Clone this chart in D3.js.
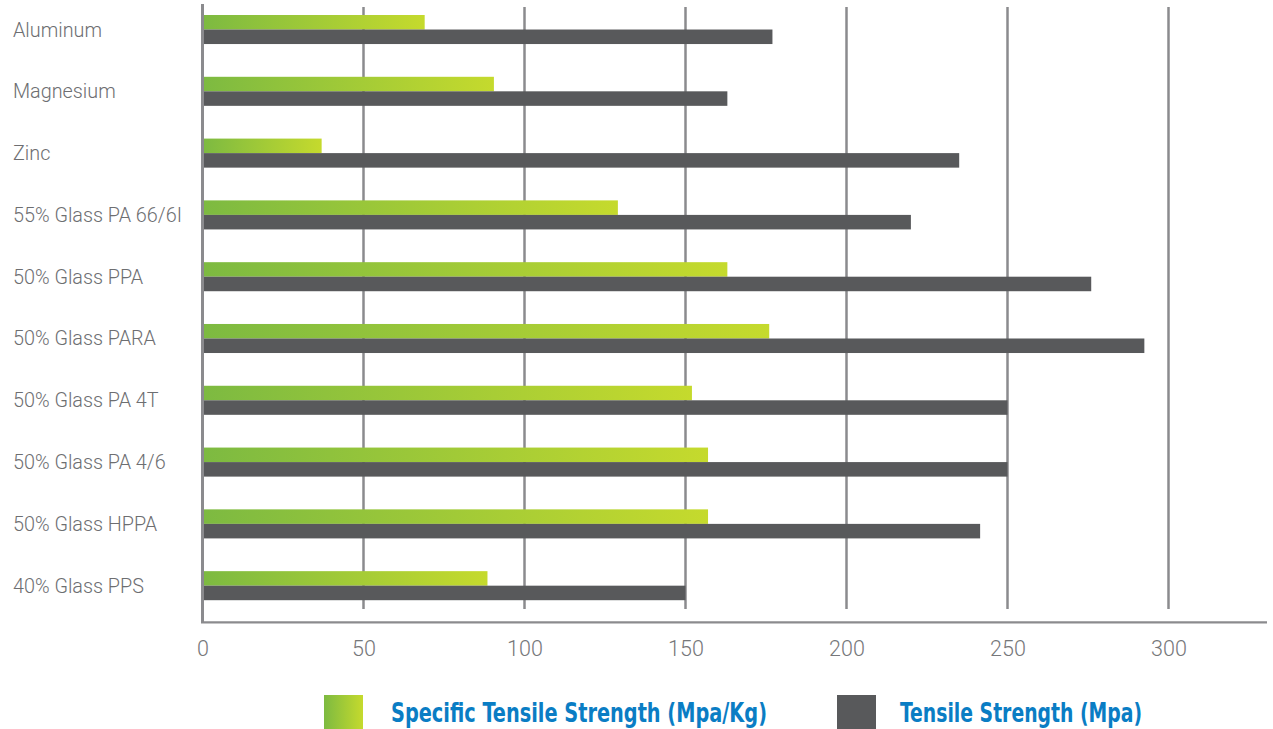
<!DOCTYPE html>
<html>
<head>
<meta charset="utf-8">
<script src="https://cdn.jsdelivr.net/npm/d3@7"></script>
<style>
  html, body { margin: 0; padding: 0; background: #ffffff; }
  svg { display: block; }
</style>
</head>
<body>
<svg id="chart" width="1273" height="729"></svg>
<script>
// Materials compared, top to bottom
const materials = [
  "Aluminum",
  "Magnesium",
  "Zinc",
  "55% Glass PA 66/6I",
  "50% Glass PPA",
  "50% Glass PARA",
  "50% Glass PA 4T",
  "50% Glass PA 4/6",
  "50% Glass HPPA",
  "40% Glass PPS"
];

// Specific tensile strength (Mpa/Kg)
const specificStrength = [69, 90.5, 37, 129, 163, 176, 152, 157, 157, 88.5];

// Tensile strength (Mpa)
const tensileStrength = [177, 163, 235, 220, 276, 292.5, 250, 250, 241.5, 150];

// Value axis ticks
const xTicks = [0, 50, 100, 150, 200, 250, 300];

const seriesNames = ["Specific Tensile Strength (Mpa/Kg)", "Tensile Strength (Mpa)"];

const svg = d3.select("#chart");

const x = d3.scaleLinear().domain([0, 300]).range([202.5, 1168.5]);

const y = d3.scaleBand()
  .domain(materials)
  .range([15, 600.2])
  .paddingInner(0.53)
  .paddingOuter(0);

const barH = y.bandwidth() / 2;

const GRAY = "#58595b";
const AXIS = "#8b8b8e";

// Green gradient used by the specific-strength bars and its legend key
const defs = svg.append("defs");
const grad = defs.append("linearGradient")
  .attr("id", "greenGrad")
  .attr("x1", "0%").attr("x2", "100%")
  .attr("y1", "0%").attr("y2", "0%");
grad.append("stop").attr("offset", "0%").attr("stop-color", "#7dba41");
grad.append("stop").attr("offset", "100%").attr("stop-color", "#c5da2d");

// Vertical gridlines
svg.append("g")
  .selectAll("line")
  .data(xTicks.slice(1))
  .join("line")
  .attr("x1", d => x(d)).attr("x2", d => x(d))
  .attr("y1", 7).attr("y2", 609)
  .attr("stroke", AXIS)
  .attr("stroke-width", 2.5);

// Left axis line
svg.append("line")
  .attr("x1", x(0)).attr("x2", x(0))
  .attr("y1", 4).attr("y2", 623)
  .attr("stroke", AXIS)
  .attr("stroke-width", 3);

// Bottom axis line
svg.append("line")
  .attr("x1", x(0) - 1.5).attr("x2", 1267)
  .attr("y1", 622.3).attr("y2", 622.3)
  .attr("stroke", AXIS)
  .attr("stroke-width", 2.2);

// Bars
const rows = materials.map((m, i) => ({ m, s: specificStrength[i], t: tensileStrength[i] }));

svg.append("g")
  .selectAll("rect")
  .data(rows)
  .join("rect")
  .attr("x", x(0) + 1.5)
  .attr("y", d => y(d.m))
  .attr("width", d => x(d.s) - x(0) - 1.5)
  .attr("height", barH)
  .attr("fill", "url(#greenGrad)");

svg.append("g")
  .selectAll("rect")
  .data(rows)
  .join("rect")
  .attr("x", x(0) + 1.5)
  .attr("y", d => y(d.m) + barH)
  .attr("width", d => x(d.t) - x(0) - 1.5)
  .attr("height", barH)
  .attr("fill", GRAY);

// Category labels
svg.append("g")
  .selectAll("text")
  .data(materials)
  .join("text")
  .attr("x", 13)
  .attr("y", d => y(d) + y.bandwidth() / 2 + 7)
  .attr("font-family", "Roboto, 'Open Sans', sans-serif")
  .attr("font-weight", 300)
  .attr("font-size", 19.8)
  .attr("fill", "#6d6e71")
  .text(d => d);

// Tick labels along the value axis
const xAxis = svg.append("g")
  .attr("transform", "translate(0,636)")
  .call(d3.axisBottom(x).tickValues(xTicks).tickSize(0).tickPadding(0));
xAxis.select(".domain").remove();
xAxis.selectAll("text")
  .attr("dy", 0)
  .attr("y", 20)
  .attr("font-family", "Roboto, 'Open Sans', sans-serif")
  .attr("font-weight", 300)
  .attr("font-size", 21.5)
  .attr("fill", "#76777a");

// Legend
const legend = svg.append("g");
const legendItems = [
  { name: seriesNames[0], fill: "url(#greenGrad)", kx: 324, tx: 391, w: 376 },
  { name: seriesNames[1], fill: GRAY, kx: 837, tx: 900, w: 242 }
];
legendItems.forEach(it => {
  legend.append("rect")
    .attr("x", it.kx).attr("y", 695)
    .attr("width", 39).attr("height", 34)
    .attr("fill", it.fill);
  legend.append("text")
    .attr("x", it.tx).attr("y", 722)
    .attr("font-family", "'Liberation Sans Narrow', 'DejaVu Sans Condensed', 'Roboto', sans-serif")
    .attr("font-weight", 700)
    .attr("font-size", 26)
    .attr("fill", "#0a7dc4")
    .attr("textLength", it.w)
    .attr("lengthAdjust", "spacingAndGlyphs")
    .text(it.name);
});
</script>
</body>
</html>
